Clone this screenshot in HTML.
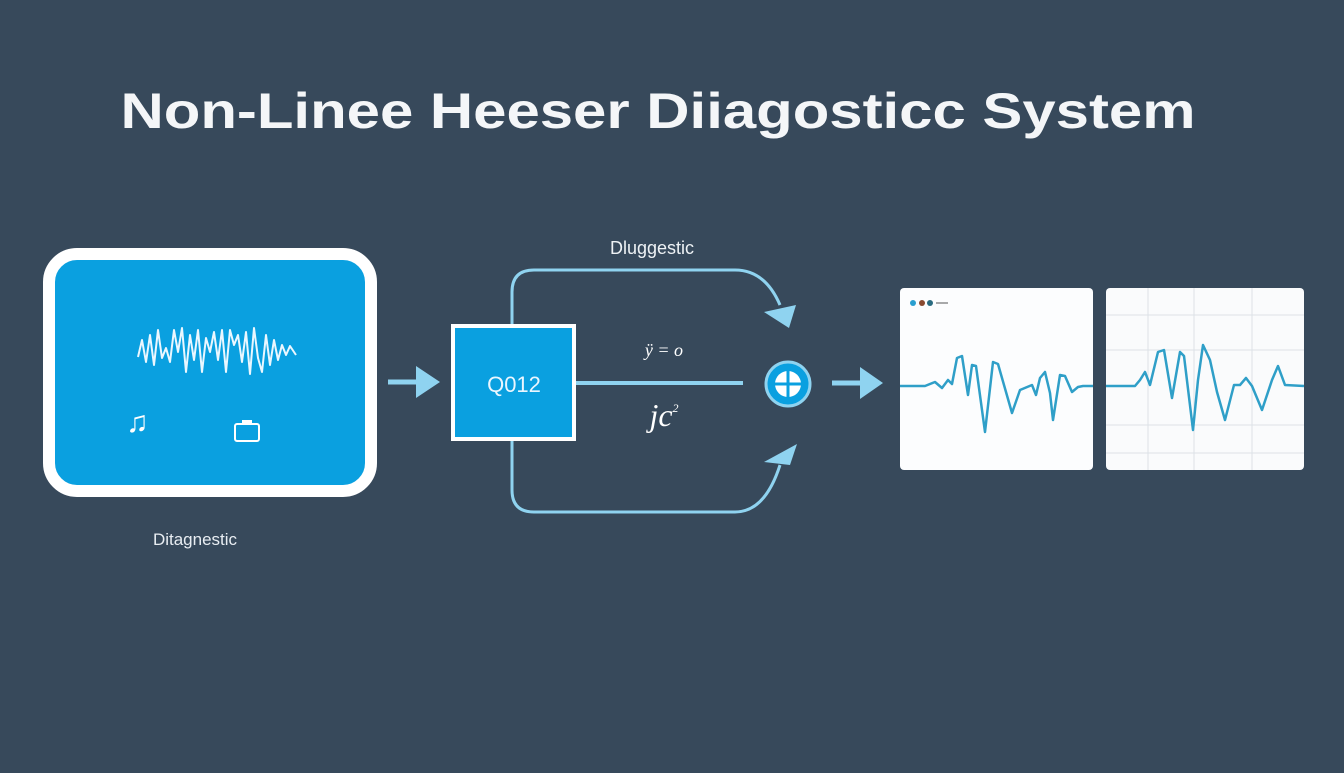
<!DOCTYPE html>
<html><head><meta charset="utf-8"><style>
body{margin:0;width:1344px;height:768px;background:#37495b;overflow:hidden;font-family:"Liberation Sans",sans-serif}
</style></head><body>
<svg width="1344" height="768" xmlns="http://www.w3.org/2000/svg">
<rect width="1344" height="768" fill="#37495b"/>
<text x="658" y="128" text-anchor="middle" font-family="Liberation Sans" font-weight="bold" font-size="50" fill="#f4f6f8" textLength="1075" lengthAdjust="spacingAndGlyphs">Non-Linee Heeser Diiagosticc System</text>
<!-- left box -->
<rect x="49" y="254" width="322" height="237" rx="28" fill="#0aa0e0" stroke="#fff" stroke-width="12"/>
<polyline fill="none" stroke="#eaf7ff" stroke-width="2" stroke-linejoin="round" points="138,357 142,340 146,362 150,335 154,365 158,330 162,358 166,348 170,362 174,330 178,352 182,328 186,372 190,335 194,360 198,330 202,372 206,338 210,352 214,332 218,360 222,330 226,372 230,330 234,345 238,335 242,362 246,332 250,374 254,328 258,358 262,372 266,335 270,365 274,340 278,360 282,345 286,355 290,346 296,355" />
<text x="126" y="432" font-size="30" font-weight="bold" fill="#fff">♫</text>
<rect x="235" y="424" width="24" height="17" rx="2" fill="none" stroke="#fff" stroke-width="2"/>
<rect x="242" y="420" width="10" height="4" fill="#fff"/>
<text x="195" y="545" text-anchor="middle" font-size="17" fill="#e8edf2">Ditagnestic</text>
<!-- arrow 1 -->
<line x1="388" y1="382" x2="420" y2="382" stroke="#8fd3f0" stroke-width="5"/>
<polygon points="416,366 440,382 416,398" fill="#8fd3f0"/>
<!-- Q012 -->
<rect x="453" y="326" width="121" height="113" fill="#0aa0e0" stroke="#fff" stroke-width="4"/>
<text x="514" y="392" text-anchor="middle" font-size="22" fill="#eaf6ff">Q012</text>
<text x="652" y="254" text-anchor="middle" font-size="18" fill="#eef2f5">Dluggestic</text>
<path d="M512,324 V292 Q512,270 534,270 H735 Q765,270 780,305" fill="none" stroke="#8fd3f0" stroke-width="3"/>
<polygon points="764,312 796,305 789,328" fill="#8fd3f0"/>
<path d="M512,441 V490 Q512,512 534,512 H735 Q765,512 780,465" fill="none" stroke="#8fd3f0" stroke-width="3"/>
<polygon points="764,462 797,444 790,465" fill="#8fd3f0"/>
<line x1="576" y1="383" x2="743" y2="383" stroke="#8fd3f0" stroke-width="4"/>
<text x="664" y="356" text-anchor="middle" font-family="Liberation Serif" font-style="italic" font-size="18" fill="#fff">ÿ = o</text>
<text x="664" y="426" text-anchor="middle" font-family="Liberation Serif" font-style="italic" font-size="32" fill="#fff">jc<tspan font-size="12" dy="-14">2</tspan></text>
<!-- circle icon -->
<circle cx="788" cy="384" r="22" fill="#0aa0e0" stroke="#8fd3f0" stroke-width="3"/>
<circle cx="788" cy="384" r="13" fill="#fff"/>
<line x1="775" y1="384" x2="801" y2="384" stroke="#0aa0e0" stroke-width="3"/>
<line x1="788" y1="371" x2="788" y2="397" stroke="#0aa0e0" stroke-width="3"/>
<!-- arrow 2 -->
<line x1="832" y1="383" x2="864" y2="383" stroke="#8fd3f0" stroke-width="5"/>
<polygon points="860,367 883,383 860,399" fill="#8fd3f0"/>
<!-- panel 1 -->
<rect x="900" y="288" width="193" height="182" rx="4" fill="#fcfdfe"/>
<circle cx="913" cy="303" r="3" fill="#2a9fd0"/><circle cx="922" cy="303" r="3" fill="#8a4a30"/><circle cx="930" cy="303" r="3" fill="#2a6b80"/>
<line x1="936" y1="303" x2="948" y2="303" stroke="#555" stroke-width="1"/>
<polyline fill="none" stroke="#2f9fc8" stroke-width="2.5" stroke-linejoin="round" points="900,386 925,386 935,382 942,388 948,380 952,384 957,358 962,356 968,395 972,365 976,366 985,432 993,362 998,364 1012,413 1020,390 1032,385 1036,395 1040,378 1045,372 1050,393 1053,420 1060,375 1065,376 1072,392 1078,387 1083,386 1093,386"/>
<!-- panel 2 -->
<rect x="1106" y="288" width="198" height="182" rx="4" fill="#fafbfc"/>
<g stroke="#dde2e6" stroke-width="1">
<line x1="1106" y1="315" x2="1304" y2="315"/><line x1="1106" y1="350" x2="1304" y2="350"/><line x1="1106" y1="425" x2="1304" y2="425"/><line x1="1106" y1="453" x2="1304" y2="453"/>
<line x1="1148" y1="288" x2="1148" y2="470"/><line x1="1194" y1="288" x2="1194" y2="470"/><line x1="1252" y1="288" x2="1252" y2="470"/>
</g>
<polyline fill="none" stroke="#2f9fc8" stroke-width="2.5" stroke-linejoin="round" points="1106,386 1135,386 1140,380 1145,372 1150,385 1158,352 1164,350 1172,398 1180,352 1184,356 1193,430 1198,380 1203,345 1210,360 1217,392 1225,420 1234,385 1240,385 1246,378 1252,386 1262,410 1272,380 1278,366 1285,385 1304,386"/>
</svg>
</body></html>
